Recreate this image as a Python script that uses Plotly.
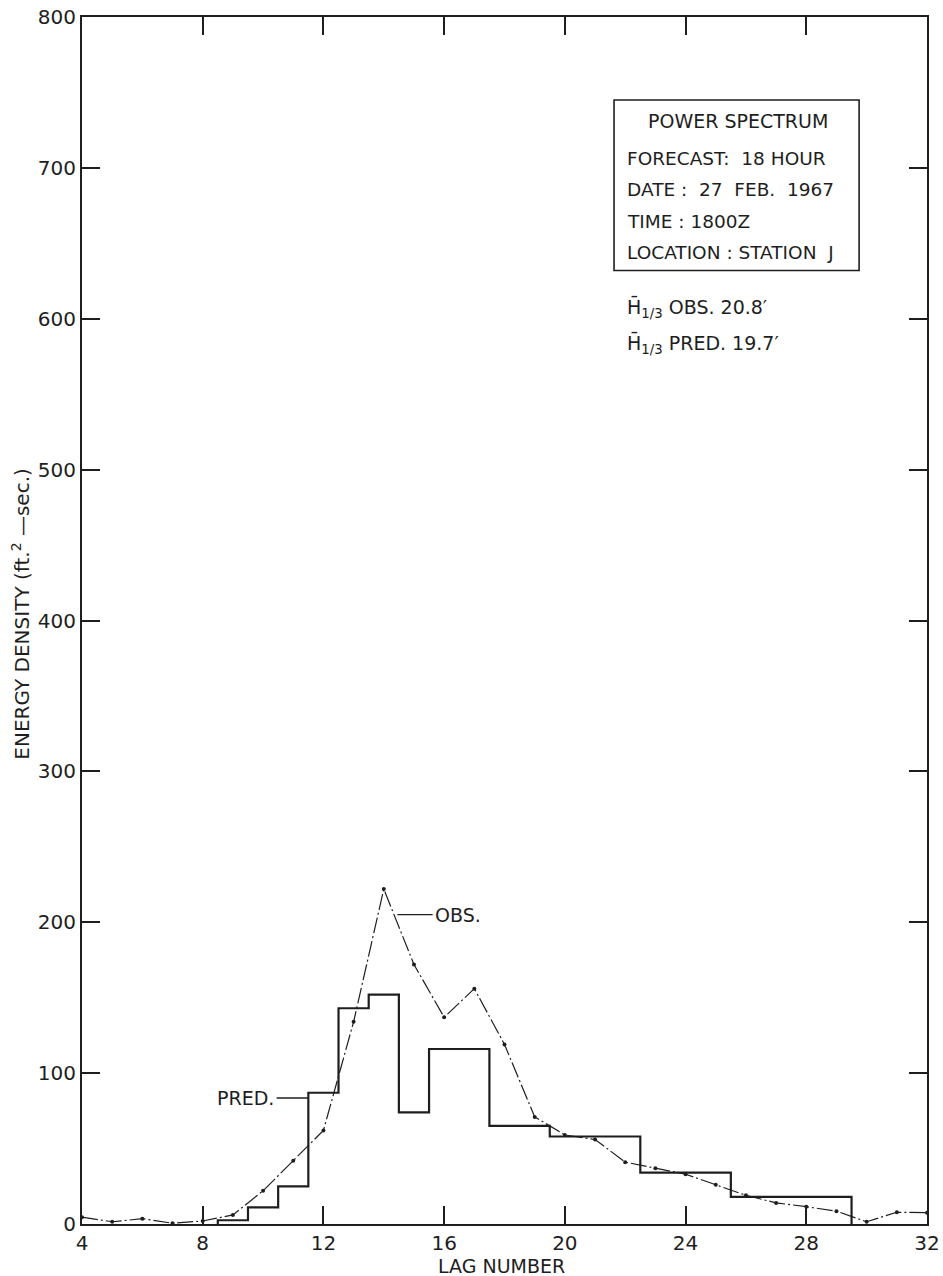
import plotly.graph_objects as go

# ---- data ----
obs_lag = [4, 5, 6, 7, 8, 9, 10, 11, 12, 13, 14, 15, 16, 17, 18, 19, 20,
           21, 22, 23, 24, 25, 26, 27, 28, 29, 30, 31, 32]
obs_val = [4.5, 1.5, 3.5, 0.5, 2, 6, 22, 42, 62, 134, 222, 172, 137, 156, 119, 71, 59,
           56, 41, 37, 33, 26, 19, 14, 11.5, 8.5, 1.5, 7.8, 7.5]

pred_lag = [9, 10, 11, 12, 13, 14, 15, 16, 17, 18, 19, 20, 21, 22, 23, 24, 25,
            26, 27, 28, 29]
pred_val = [2.5, 11, 25, 87, 143, 152, 74, 116, 116, 65, 65, 58, 58, 58, 34, 34, 34,
            18, 18, 18, 18]

x_ticks = [4, 8, 12, 16, 20, 24, 28, 32]
y_ticks = [0, 100, 200, 300, 400, 500, 600, 700, 800]

info_lines = ["FORECAST:\u00a0\u00a018 HOUR", "DATE :\u00a0\u00a027\u00a0\u00a0FEB.\u00a0\u00a01967",
              "TIME : 1800Z", "LOCATION : STATION\u00a0\u00a0J"]

INK = "#1e1e1e"
FONT = "DejaVu Sans"

# step outline for the predicted spectrum: bins centred on each lag
step_x = [pred_lag[0] - 0.5] + [l - 0.5 for l in pred_lag] + [pred_lag[-1] + 0.5]
step_y = [0] + pred_val + [0]

fig = go.Figure()
fig.add_trace(go.Scatter(x=step_x, y=step_y, mode="lines", line_shape="hv",
                         line=dict(color=INK, width=2.2), showlegend=False,
                         hoverinfo="skip"))
fig.add_trace(go.Scatter(x=obs_lag, y=obs_val, mode="lines+markers",
                         line=dict(color=INK, width=1.2, dash="16px,3px,2px,3px"),
                         marker=dict(color=INK, size=4),
                         showlegend=False, hoverinfo="skip"))

# labels with leaders
fig.add_shape(type="line", x0=14.45, x1=15.62, y0=205, y1=205,
              line=dict(color=INK, width=1.3))
fig.add_annotation(x=15.64, y=205, text="OBS.", showarrow=False, xanchor="left",
                   font=dict(family=FONT, size=19, color=INK))
fig.add_shape(type="line", x0=10.45, x1=11.5, y0=83.5, y1=83.5,
              line=dict(color=INK, width=1.3))
fig.add_annotation(x=10.43, y=83.5, text="PRED.", showarrow=False, xanchor="right",
                   font=dict(family=FONT, size=19, color=INK))

# info box
fig.add_shape(type="rect", x0=21.63, x1=29.75, y0=632, y1=745,
              line=dict(color=INK, width=1.6), fillcolor="rgba(0,0,0,0)")
fig.add_annotation(x=25.75, y=731, text="POWER SPECTRUM", showarrow=False,
                   xanchor="center", font=dict(family=FONT, size=19, color=INK))
for yy, t in zip([706, 685.5, 664.5, 644], info_lines):
    fig.add_annotation(x=22.0, y=yy, text=t, showarrow=False, xanchor="left",
                       font=dict(family=FONT, size=18.5, color=INK))

fig.add_annotation(x=22.0, y=607, text="H\u0304<sub>1/3</sub> OBS. 20.8\u2032",
                   showarrow=False, xanchor="left",
                   font=dict(family=FONT, size=19, color=INK))
fig.add_annotation(x=22.0, y=583, text="H\u0304<sub>1/3</sub> PRED. 19.7\u2032",
                   showarrow=False, xanchor="left",
                   font=dict(family=FONT, size=19, color=INK))

# axis titles
fig.add_annotation(xref="paper", yref="paper", x=-0.072, y=0.505,
                   text="ENERGY DENSITY (ft.<sup>2</sup> \u2014sec.)", textangle=-90,
                   showarrow=False, xanchor="center", yanchor="middle",
                   font=dict(family=FONT, size=20, color=INK))
fig.add_annotation(xref="paper", yref="paper", x=0.497, y=-0.0345,
                   text="LAG NUMBER", showarrow=False, xanchor="center",
                   yanchor="middle", font=dict(family=FONT, size=19, color=INK))

axis_common = dict(showline=True, linewidth=2, linecolor=INK, mirror="ticks",
                   ticks="inside", ticklen=18, tickwidth=1.6, tickcolor=INK,
                   showgrid=False, zeroline=False, automargin=False,
                   tickfont=dict(family=FONT, size=20, color=INK))
fig.update_xaxes(range=[4, 32], tickmode="array", tickvals=x_ticks,
                 ticktext=[str(v) for v in x_ticks], **axis_common)
fig.update_yaxes(range=[0, 800], tickmode="array", tickvals=y_ticks,
                 ticktext=[str(v) for v in y_ticks], **axis_common)

fig.update_layout(width=943, height=1276,
                  margin=dict(l=82, r=16, t=17, b=52, autoexpand=False),
                  paper_bgcolor="white", plot_bgcolor="white")

fig.write_html("out.html", config={"displayModeBar": False},
               post_script="document.body.style.margin='0px';document.body.style.overflow='hidden';")
